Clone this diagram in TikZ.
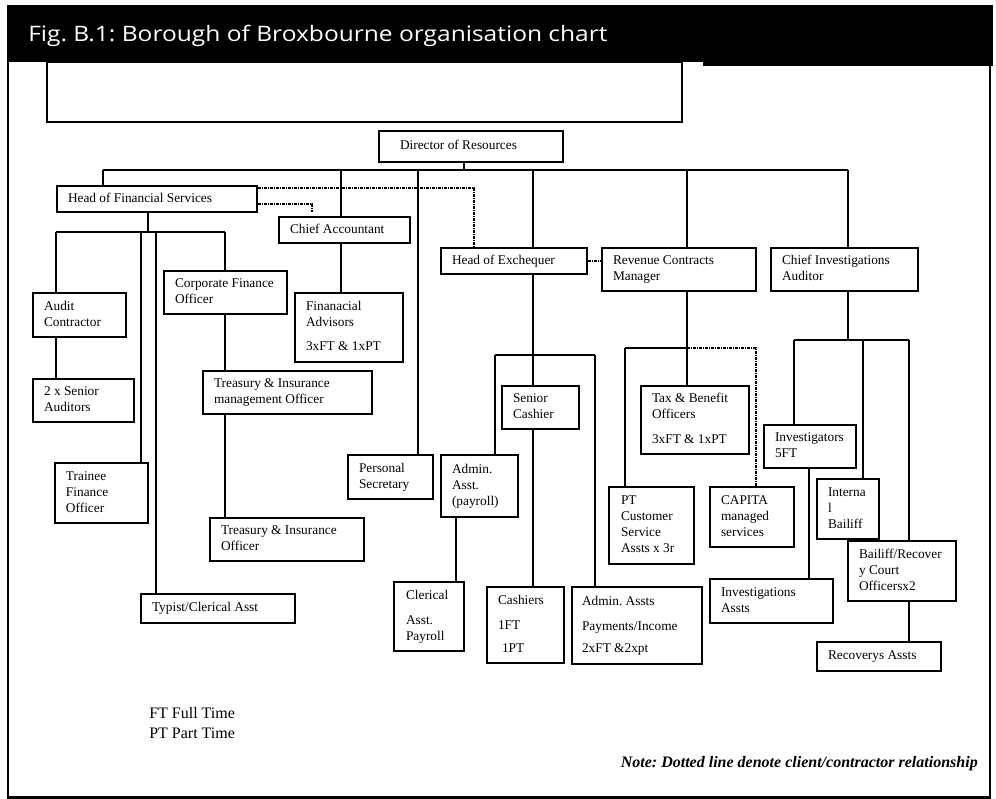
\documentclass[tikz,border=0pt]{standalone}
\usepackage{fontspec}
\setmainfont{Liberation Serif}
\newfontfamily\titlefont[FakeStretch=1.15]{Open Sans}
\frenchspacing
\tikzset{
  box/.style={draw, line width=0.9pt, inner sep=0pt, font=\fontsize{10}{12}\selectfont},
  conn/.style={line width=0.8pt},
  dd/.style={line width=1.1pt, dash pattern=on 2.25pt off 0.75pt on 0.75pt off 0.75pt},
  frame/.style={line width=1.6pt},
}
\newcommand\ob[7][11]{%
  \pgfmathsetmacro\obw{(#5-#3)*0.75}%
  \pgfmathsetmacro\obh{(#6-#4)*0.75}%
  \pgfmathsetmacro\obp{#1*0.75}%
  \node[box, minimum height=\obh pt] (#2) at ({(#3+#5)/2},{(#4+#6)/2}) {\makebox[\obw pt][l]{\hspace*{\obp pt}\begin{tabular}{@{}l@{}}#7\end{tabular}}};%
}
\begin{document}
\begin{tikzpicture}[x=0.75pt,y=-0.75pt]
\useasboundingbox (0,0) rectangle (996,799);
% title bar and frame
\fill[black] (7,5) rectangle (993,62);
\fill[black] (703,62) rectangle (993,66);
\draw[frame] (8,5) -- (8,797.5) -- (990,797.5) -- (990,5);
\node[anchor=base west, text=white, font=\titlefont\fontsize{16}{18}\selectfont, inner sep=0pt] (title) at (28,42) {Fig. B.1: Borough of Broxbourne organisation chart};
\draw[line width=0.8pt] (47,62) rectangle (682,122);

% boxes
\ob[21]{dir}{379}{131}{563}{162}{Director of Resources}
\ob{hfs}{57}{186}{257}{212}{Head of Financial Services}
\ob{ca}{279}{217}{410}{243}{Chief Accountant}
\ob{fa}{295}{293}{403}{362}{Finanacial\\Advisors\\[6pt]3xFT \& 1xPT}
\ob{aud}{33}{293}{126}{337}{Audit\\Contractor}
\ob{sen}{33}{379}{134}{422}{2 x Senior\\Auditors}
\ob{tfo}{55}{463}{148}{523}{Trainee\\Finance\\Officer}
\ob{typ}{141}{594}{295}{623}{Typist/Clerical Asst}
\ob{cfo}{164}{271}{287}{314}{Corporate Finance\\Officer}
\ob{timo}{203}{371}{372}{414}{Treasury \& Insurance\\management Officer}
\ob{tio}{210}{518}{364}{561}{Treasury \& Insurance\\Officer}
\ob{ps}{348}{455}{433}{499}{Personal\\Secretary}
\ob{hoe}{441}{248}{587}{274}{Head of Exchequer}
\ob{sc}{502}{386}{579}{429}{Senior\\Cashier}
\ob{aa}{441}{455}{518}{517}{Admin.\\Asst.\\(payroll)}
\ob[12]{clr}{394}{582}{464}{651}{Clerical\\[6.75pt]Asst.\\Payroll}
\ob{cash}{487}{587}{564}{663}{Cashiers\\[6.75pt]1FT\\[5.25pt]\hspace*{3pt}1PT}
\ob[10]{aap}{572}{587}{702}{664}{Admin. Assts\\[6.75pt]Payments/Income\\[4.5pt]2xFT \&2xpt}
\ob{rcm}{602}{248}{756}{291}{Revenue Contracts\\Manager}
\ob{tb}{641}{386}{749}{454}{Tax \& Benefit\\Officers\\[6.75pt]3xFT \& 1xPT}
\ob[12]{pt}{609}{487}{694}{564}{PT\\Customer\\Service\\Assts x 3r}
\ob{cap}{710}{487}{794}{547}{CAPITA\\managed\\services}
\ob{cia}{771}{248}{918}{291}{Chief Investigations\\Auditor}
\ob{inv}{764}{425}{856}{468}{Investigators\\5FT}
\ob{ia}{710}{579}{833}{623}{Investigations\\Assts}
\ob{ib}{817}{479}{879}{539}{Interna\\l\\Bailiff}
\ob{br}{848}{541}{956}{601}{Bailiff/Recover\\y Court\\Officersx2}
\ob{rec}{817}{642}{941}{671}{Recoverys Assts}

% bus coordinates
\coordinate (d0) at (464,170);
\coordinate (b1a) at (103,170);
\coordinate (b1b) at (341,170);
\coordinate (b1c) at (418,170);
\coordinate (b1d) at (533,170);
\coordinate (b1e) at (687,170);
\coordinate (b1f) at (848,170);
\coordinate (h0) at (148,232);
\coordinate (b2a) at (56,232);
\coordinate (b2b) at (141,232);
\coordinate (b2c) at (156,232);
\coordinate (b2d) at (225,232);
\coordinate (b3a) at (495,355);
\coordinate (b3m) at (533,355);
\coordinate (b3b) at (595,355);
\coordinate (xaa) at (456,517);
\coordinate (b4a) at (625,348);
\coordinate (b4m) at (687,348);
\coordinate (b4b) at (756,348);
\coordinate (b5a) at (794,340);
\coordinate (b5m) at (848,340);
\coordinate (b5b) at (863,340);
\coordinate (b5c) at (909,340);
\coordinate (xinv) at (809,468);
\coordinate (dx1) at (474,188);
\coordinate (dx2) at (312,204);
\coordinate (dx2e) at (312,212);

% connectors
\draw[conn] (d0 |- dir.south) -- (d0);
\draw[conn] (b1a) -- (b1f);
\draw[conn] (b1a) -- (b1a |- hfs.north);
\draw[conn] (b1b) -- (b1b |- ca.north);
\draw[conn] (b1c) -- (b1c |- ps.north);
\draw[conn] (b1d) -- (b1d |- hoe.north);
\draw[conn] (b1e) -- (b1e |- rcm.north);
\draw[conn] (b1f) -- (b1f |- cia.north);

\draw[conn] (h0 |- hfs.south) -- (h0);
\draw[conn] (b2a) -- (b2d);
\draw[conn] (b2a) -- (b2a |- aud.north);
\draw[conn] (b2b) -- (b2b |- tfo.north);
\draw[conn] (b2c) -- (b2c |- typ.north);
\draw[conn] (b2d) -- (b2d |- cfo.north);
\draw[conn] (b2a |- aud.south) -- (b2a |- sen.north);
\draw[conn] (b2d |- cfo.south) -- (b2d |- timo.north);
\draw[conn] (b2d |- timo.south) -- (b2d |- tio.north);
\draw[conn] (b1b |- ca.south) -- (b1b |- fa.north);

\draw[conn] (b1d |- hoe.south) -- (b1d |- sc.north);
\draw[conn] (b3a) -- (b3b);
\draw[conn] (b3a) -- (b3a |- aa.north);
\draw[conn] (b3b) -- (b3b |- aap.north);
\draw[conn] (b3m |- sc.south) -- (b3m |- cash.north);
\draw[conn] (xaa |- aa.south) -- (xaa |- clr.north);

\draw[conn] (b4m |- rcm.south) -- (b4m |- tb.north);
\draw[conn] (b4a) -- (b4m);
\draw[conn] (b4a) -- (b4a |- pt.north);
\draw[dd] (b4m) -- (b4b) -- (b4b |- cap.north);

\draw[conn] (b5m |- cia.south) -- (b5m);
\draw[conn] (b5a) -- (b5c);
\draw[conn] (b5a) -- (b5a |- inv.north);
\draw[conn] (b5b) -- (b5b |- ib.north);
\draw[conn] (b5c) -- (b5c |- br.north);
\draw[conn] (xinv |- inv.south) -- (xinv |- ia.north);
\draw[conn] (b5c |- br.south) -- (b5c |- rec.north);

% dotted client/contractor lines
\draw[dd] (dx1 -| hfs.east) -| (dx1 |- hoe.north);
\draw[dd] (dx2 -| hfs.east) -| (dx2e);
\draw[dd] (hoe.east) -- (rcm.west |- hoe.east);

% legend and note
\node[anchor=base west, align=left, inner sep=0pt, font=\fontsize{12}{15}\selectfont] (legend) at (149,738) {FT Full Time\\PT Part Time};
\node[anchor=base east, inner sep=0pt, font=\fontsize{12}{14}\selectfont\bfseries\itshape] (note) at (978,767) {Note: Dotted line denote client/contractor relationship};
\end{tikzpicture}
\end{document}
